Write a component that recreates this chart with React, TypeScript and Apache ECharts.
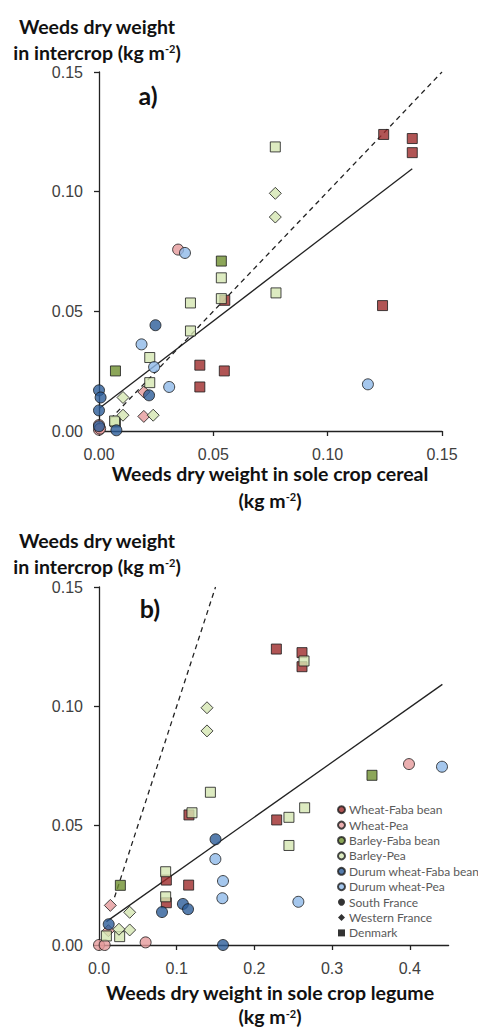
import React, { useEffect, useRef } from "react";
import * as echarts from "echarts";

// ---------- DATA ----------
// site codes: S = South France (circle), W = Western France (diamond), D = Denmark (square)
const comboNames = [
  "Wheat-Faba bean",
  "Wheat-Pea",
  "Barley-Faba bean",
  "Barley-Pea",
  "Durum wheat-Faba bean",
  "Durum wheat-Pea",
];
const comboColors = ["#9e2a2b", "#e59a9b", "#6f9030", "#d5e6b2", "#2c5c98", "#8fb9e8"];
const siteNames = ["South France", "Western France", "Denmark"];

// panel a) : x = weeds in sole crop cereal, y = weeds in intercrop
const cerealWheatFaba = [
  [0.1245, 0.1239, "D"], [0.137, 0.1222, "D"], [0.137, 0.1163, "D"], [0.124, 0.0524, "D"],
  [0.055, 0.0546, "D"], [0.0441, 0.0275, "D"], [0.0548, 0.0251, "D"], [0.0441, 0.0184, "D"],
];
const cerealWheatPea = [
  [0.0346, 0.0758, "S"], [0.0, 0.0025, "S"], [0.0, 0.0005, "S"], [0.0005, 0.001, "S"],
  [0.0196, 0.0163, "W"], [0.0196, 0.0061, "W"],
];
const cerealBarleyFaba = [[0.0535, 0.071, "D"], [0.0072, 0.0251, "D"]];
const cerealBarleyPea = [
  [0.0771, 0.1187, "D"], [0.0535, 0.064, "D"], [0.0535, 0.0553, "D"], [0.0774, 0.0577, "D"],
  [0.04, 0.0535, "D"], [0.04, 0.0418, "D"], [0.0222, 0.0307, "D"], [0.0222, 0.0202, "D"],
  [0.0072, 0.0038, "D"], [0.0068, 0.0042, "D"],
  [0.0771, 0.0993, "W"], [0.0771, 0.0894, "W"], [0.0105, 0.014, "W"], [0.0105, 0.0066, "W"],
  [0.0237, 0.0066, "W"],
];
const cerealDurumFaba = [
  [0.0247, 0.0442, "S"], [0.0219, 0.0149, "S"], [0.0, 0.017, "S"], [0.0007, 0.014, "S"],
  [0.0, 0.0086, "S"], [0.0, 0.002, "S"], [0.0076, 0.0003, "S"],
];
const cerealDurumPea = [
  [0.0376, 0.0744, "S"], [0.0186, 0.0362, "S"], [0.0241, 0.0267, "S"], [0.0307, 0.0184, "S"],
  [0.1176, 0.0195, "S"],
];
const cerealFit = [[0.0, 0.0094], [0.137, 0.1096]];
const cerealOneToOne = [[0.005, 0.005], [0.15, 0.15]];

// panel b) : x = weeds in sole crop legume, y = weeds in intercrop
const legumeWheatFaba = [
  [0.2283, 0.124, "D"], [0.2613, 0.1225, "D"], [0.2613, 0.1166, "D"], [0.2287, 0.0524, "D"],
  [0.1158, 0.0545, "D"], [0.0867, 0.0272, "D"], [0.1154, 0.0251, "D"], [0.0867, 0.0177, "D"],
];
const legumeWheatPea = [
  [0.399, 0.0758, "S"], [0.0, 0.0, "S"], [0.0073, 0.0, "S"], [0.06, 0.0011, "S"],
  [0.0146, 0.0166, "W"], [0.012, 0.006, "W"],
];
const legumeBarleyFaba = [[0.3514, 0.0711, "D"], [0.0275, 0.025, "D"]];
const legumeBarleyPea = [
  [0.2639, 0.119, "D"], [0.1434, 0.064, "D"], [0.1197, 0.0554, "D"], [0.2647, 0.0575, "D"],
  [0.2445, 0.0535, "D"], [0.2445, 0.0417, "D"], [0.0858, 0.0307, "D"], [0.0858, 0.0202, "D"],
  [0.0266, 0.0035, "D"], [0.0095, 0.0038, "D"],
  [0.139, 0.0994, "W"], [0.139, 0.0897, "W"], [0.0395, 0.0137, "W"], [0.0395, 0.0063, "W"],
  [0.0257, 0.0066, "W"],
];
const legumeDurumFaba = [
  [0.15, 0.0443, "S"], [0.108, 0.0172, "S"], [0.1146, 0.015, "S"], [0.0811, 0.0138, "S"],
  [0.0125, 0.0087, "S"], [0.1596, 0.0, "S"],
];
const legumeDurumPea = [
  [0.4415, 0.0747, "S"], [0.1498, 0.036, "S"], [0.1596, 0.0268, "S"], [0.1588, 0.0196, "S"],
  [0.2566, 0.0181, "S"],
];
const legumeFit = [[0.0095, 0.0098], [0.442, 0.1092]];
const legumeOneToOne = [[0.02, 0.02], [0.15, 0.15]];

const cerealTicks = [0, 0.05, 0.1, 0.15];
const legumeTicks = [0, 0.1, 0.2, 0.3, 0.4];
const intercropTicks = [0, 0.05, 0.1, 0.15];

// ---------- CHART ----------
const siteSymbol: Record<string, string> = { S: "circle", W: "diamond", D: "rect" };
const siteSize: Record<string, number> = { S: 11, W: 12, D: 10 };

const cerealSets = [cerealWheatFaba, cerealWheatPea, cerealBarleyFaba, cerealBarleyPea, cerealDurumFaba, cerealDurumPea];
const legumeSets = [legumeWheatFaba, legumeWheatPea, legumeBarleyFaba, legumeBarleyPea, legumeDurumFaba, legumeDurumPea];

const LABEL_FONT = "Liberation Sans";
const TITLE_FONT = "Lato";
const TITLE_SIZE = 19.5;

function scatter(name: string, color: string, pts: any[], idx: number) {
  return {
    type: "scatter",
    name,
    xAxisIndex: idx,
    yAxisIndex: idx,
    z: 3,
    itemStyle: { color, borderColor: "#1a1a1a", borderWidth: 1 },
    data: pts.map((p) => ({
      value: [p[0], p[1]],
      symbol: siteSymbol[p[2]],
      symbolSize: siteSize[p[2]],
    })),
  };
}

function line(pts: number[][], idx: number, dashed: boolean) {
  return {
    type: "line",
    xAxisIndex: idx,
    yAxisIndex: idx,
    z: 1,
    symbol: "none",
    silent: true,
    lineStyle: { color: "#222", width: 1.3, type: dashed ? [5, 4] : "solid" },
    data: pts,
  };
}

function valueAxis(gridIndex: number, min: number, max: number, ticks: number[], digits: number, margin: number) {
  return {
    type: "value",
    gridIndex,
    min,
    max,
    splitLine: { show: false },
    axisLine: { show: true, onZero: false, lineStyle: { color: "#222", width: 1.3 } },
    axisTick: { show: true, inside: false, length: 5, customValues: ticks, lineStyle: { color: "#222", width: 1.3 } },
    axisLabel: {
      customValues: ticks,
      formatter: (v: number) => v.toFixed(digits),
      fontFamily: LABEL_FONT,
      fontSize: 16,
      color: "#404040",
      margin,
    },
  };
}

const richStyles = (lh: number) => ({
  b: { fontFamily: TITLE_FONT, fontWeight: "bold", fontSize: TITLE_SIZE, lineHeight: lh, fill: "#111" },
  s: { fontFamily: TITLE_FONT, fontWeight: "bold", fontSize: 11, verticalAlign: "top", padding: [4, 0, 0, 0], fill: "#111" },
});

function richTitle(x: number, y: number, l1: string, l2: string, lh: number) {
  return {
    type: "text",
    x,
    y,
    style: {
      text: `{b|${l1}}\n{b|${l2}}{s|-2}{b|)}`,
      align: "center",
      verticalAlign: "middle",
      rich: richStyles(lh),
    },
  };
}

export default function App() {
  const ref = useRef<HTMLDivElement>(null);
  useEffect(() => {
    if (!ref.current) return;
    const chart = echarts.init(ref.current, null, { renderer: "svg" });
    const series: any[] = [];
    series.push(line(cerealOneToOne, 0, true), line(cerealFit, 0, false));
    series.push(line(legumeOneToOne, 1, true), line(legumeFit, 1, false));
    comboNames.forEach((n, i) => series.push(scatter(n, comboColors[i], cerealSets[i], 0)));
    comboNames.forEach((n, i) => series.push(scatter(n, comboColors[i], legumeSets[i], 1)));
    siteNames.forEach((n, i) =>
      series.push({
        type: "scatter",
        name: n,
        xAxisIndex: 1,
        yAxisIndex: 1,
        itemStyle: { color: "#000" },
        symbol: ["circle", "diamond", "rect"][i],
        data: [],
      })
    );
    chart.setOption({
      animation: false,
      backgroundColor: "#fff",
      grid: [
        { left: 99, top: 72, width: 343, height: 359 },
        { left: 99, top: 587, width: 349.6, height: 358 },
      ],
      xAxis: [valueAxis(0, 0, 0.15, cerealTicks, 2, 15), valueAxis(1, 0, 0.45, legumeTicks, 1, 15)],
      yAxis: [valueAxis(0, 0, 0.15, intercropTicks, 2, 16), valueAxis(1, 0, 0.15, intercropTicks, 2, 16)],
      legend: {
        orient: "vertical",
        left: 332,
        top: 797,
        itemWidth: 7,
        itemHeight: 7,
        itemGap: 0,
        selectedMode: false,
        textStyle: { fontFamily: TITLE_FONT, fontSize: 12, lineHeight: 15.4, color: "#5a5a5a", padding: [0, 0, 0, -1] },
        data: [
          ...comboNames.map((n) => ({ name: n, icon: "circle" })),
          { name: siteNames[0], icon: "circle" },
          { name: siteNames[1], icon: "diamond" },
          { name: siteNames[2], icon: "rect" },
        ],
      },
      graphic: [
        richTitle(97, 39, "Weeds dry weight", "in intercrop (kg m", 26),
        richTitle(97, 553, "Weeds dry weight", "in intercrop (kg m", 26),
        richTitle(270, 487, "Weeds dry weight in sole crop cereal", "(kg m", 27),
        richTitle(270, 1004, "Weeds dry weight in sole crop legume", "(kg m", 24),
        {
          type: "text", x: 148, y: 95,
          style: { text: "a)", font: "bold 25px Lato", fill: "#111", align: "center", verticalAlign: "middle" },
        },
        {
          type: "text", x: 150, y: 608,
          style: { text: "b)", font: "bold 25px Lato", fill: "#111", align: "center", verticalAlign: "middle" },
        },
      ],
      series,
    });
    return () => chart.dispose();
  }, []);
  return (
    <div
      ref={ref}
      style={{ position: "absolute", left: 0, top: 0, width: 478, height: 1028 }}
    />
  );
}
